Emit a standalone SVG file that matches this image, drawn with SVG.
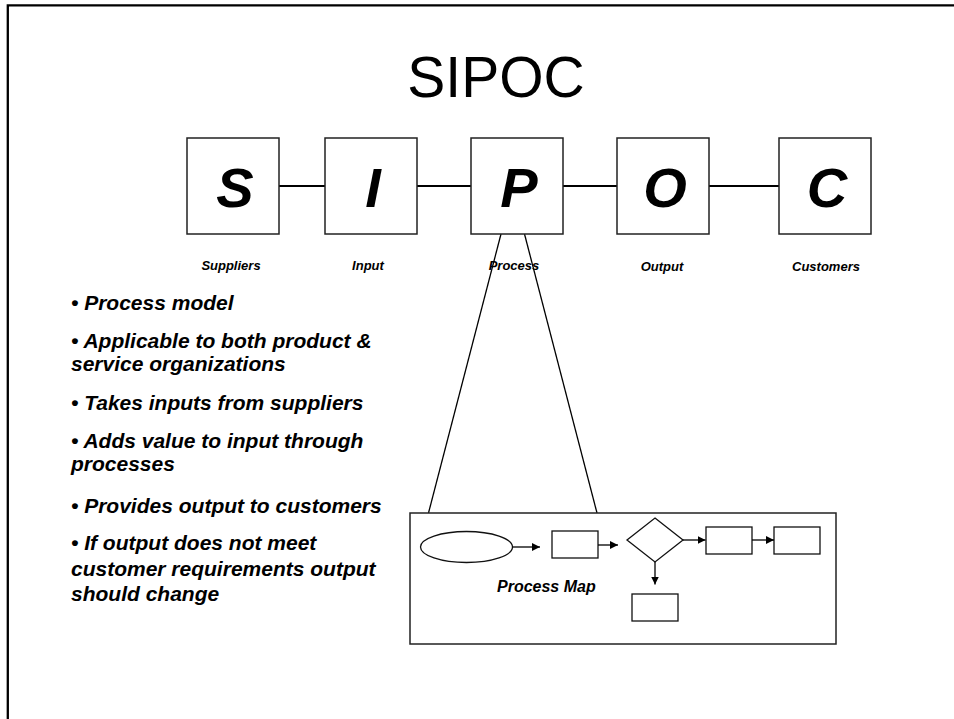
<svg xmlns="http://www.w3.org/2000/svg" width="954" height="719" viewBox="0 0 954 719">
  <style>
    .frame { stroke: #000; stroke-width: 2.3; fill: none; }
    .box { fill: #fff; stroke: #222; stroke-width: 1.5; }
    .link { stroke: #000; stroke-width: 1.8; fill: none; }
    .thin { stroke: #000; stroke-width: 1.3; fill: none; }
    .shape { fill: #fff; stroke: #111; stroke-width: 1.3; }
    .arrow { stroke: #000; stroke-width: 1.3; fill: none; marker-end: url(#head); }
    .title { font-family: "Liberation Sans", Arial, sans-serif; font-size: 57px; fill: #000; text-anchor: middle; }
    .letter { font-family: "Liberation Sans", Arial, sans-serif; font-size: 56px; font-weight: bold; font-style: italic; fill: #000; text-anchor: middle; }
    .label { font-family: "Liberation Sans", Arial, sans-serif; font-size: 13px; font-weight: bold; font-style: italic; fill: #000; text-anchor: middle; }
    .bullet { font-family: "Liberation Sans", Arial, sans-serif; font-size: 21px; font-weight: bold; font-style: italic; fill: #000; }
    .map { font-family: "Liberation Sans", Arial, sans-serif; font-size: 16px; font-weight: bold; font-style: italic; fill: #000; }
  </style>
  <defs>
    <marker id="head" viewBox="0 0 10 10" refX="10" refY="5" markerWidth="8" markerHeight="8" markerUnits="userSpaceOnUse" orient="auto">
      <path d="M0,0 L10,5 L0,10 Z" fill="#000"/>
    </marker>
  </defs>

  <rect width="954" height="719" fill="#fff"/>

  <!-- slide frame: top and left edges -->
  <path class="frame" d="M7.8,719 L7.8,5.3 L954,5.3"/>

  <text class="title" x="496" y="97">SIPOC</text>

  <!-- links between the SIPOC boxes and the zoom-out lines to the process map -->
  <g id="connectors">
    <line class="link" x1="279" y1="186" x2="325" y2="186"/>
    <line class="link" x1="417" y1="186" x2="471" y2="186"/>
    <line class="link" x1="563" y1="186" x2="617" y2="186"/>
    <line class="link" x1="709" y1="186" x2="779" y2="186"/>
    <line class="thin" x1="501" y1="234" x2="428.5" y2="513"/>
    <line class="thin" x1="524.5" y1="234" x2="597" y2="513"/>
  </g>

  <g id="suppliers">
    <rect class="box" x="187" y="138" width="92" height="96"/>
    <text class="letter" x="235" y="207">S</text>
    <text class="label" x="231" y="270">Suppliers</text>
  </g>
  <g id="input">
    <rect class="box" x="325" y="138" width="92" height="96"/>
    <text class="letter" x="373" y="207">I</text>
    <text class="label" x="368" y="270">Input</text>
  </g>
  <g id="process">
    <rect class="box" x="471" y="138" width="92" height="96"/>
    <text class="letter" x="519" y="207">P</text>
    <text class="label" x="514" y="270">Process</text>
  </g>
  <g id="output">
    <rect class="box" x="617" y="138" width="92" height="96"/>
    <text class="letter" x="665" y="207">O</text>
    <text class="label" x="662" y="271">Output</text>
  </g>
  <g id="customers">
    <rect class="box" x="779" y="138" width="92" height="96"/>
    <text class="letter" x="827" y="207">C</text>
    <text class="label" x="826" y="271">Customers</text>
  </g>

  <!-- bullet list -->
  <g id="notes">
    <text class="bullet" x="71" y="310">• Process model</text>
    <text class="bullet" x="71" y="348">• Applicable to both product &amp;</text>
    <text class="bullet" x="71" y="371">service organizations</text>
    <text class="bullet" x="71" y="410">• Takes inputs from suppliers</text>
    <text class="bullet" x="71" y="448">• Adds value to input through</text>
    <text class="bullet" x="71" y="471">processes</text>
    <text class="bullet" x="71" y="513">• Provides output to customers</text>
    <text class="bullet" x="71" y="550">• If output does not meet</text>
    <text class="bullet" x="71" y="576">customer requirements output</text>
    <text class="bullet" x="71" y="601">should change</text>
  </g>

  <!-- process map detail -->
  <g id="process-map">
    <rect class="box" x="410" y="513" width="426" height="131"/>
    <ellipse class="shape" cx="466.5" cy="547" rx="46" ry="15.5"/>
    <rect class="shape" x="552" y="531" width="46" height="27"/>
    <polygon class="shape" points="655,518 683,540 655,562 627,540"/>
    <rect class="shape" x="706" y="527" width="46" height="27"/>
    <rect class="shape" x="774" y="527" width="46" height="27"/>
    <rect class="shape" x="632" y="594" width="46" height="27"/>
    <line class="arrow" x1="512.5" y1="547" x2="540" y2="547"/>
    <line class="arrow" x1="598" y1="545" x2="618" y2="545"/>
    <line class="arrow" x1="683" y1="540" x2="705.5" y2="540"/>
    <line class="arrow" x1="752" y1="540" x2="774" y2="540"/>
    <line class="arrow" x1="655" y1="562" x2="655" y2="584.5"/>
    <text class="map" x="497" y="592">Process Map</text>
  </g>
</svg>
